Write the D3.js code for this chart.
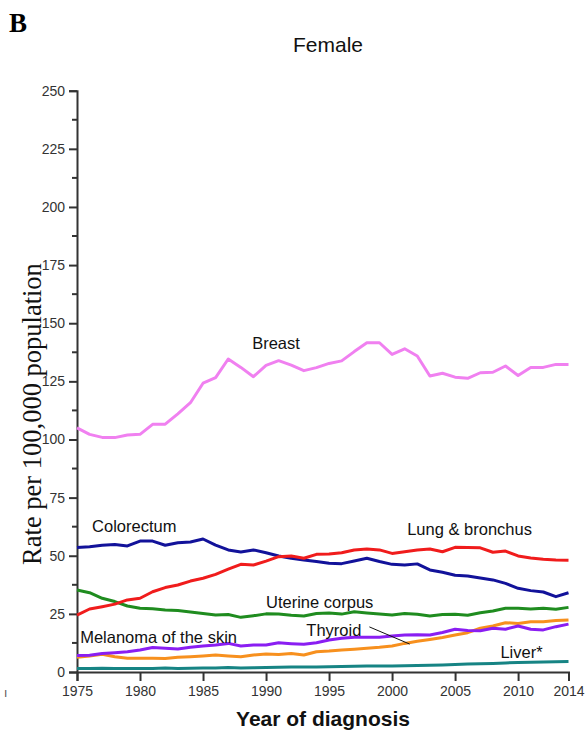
<!DOCTYPE html>
<html>
<head>
<meta charset="utf-8">
<script src="https://cdn.jsdelivr.net/npm/d3@7"></script>
<style>
  html, body { margin: 0; padding: 0; background: #fff; }
  svg { display: block; }
</style>
</head>
<body>
<script>
// Female cancer incidence rates per 100,000, 1975-2014
const years = d3.range(1975, 2015);

const breast = [105, 102.2, 100.9, 100.8, 101.9, 102.2, 106.5, 106.6, 111, 115.8,
  124.2, 126.6, 134.6, 131, 127, 131.9, 133.9, 132, 129.6, 130.9,
  132.7, 133.8, 137.8, 141.6, 141.6, 136.6, 139, 135.9, 127.3, 128.5,
  126.8, 126.3, 128.7, 128.9, 131.6, 127.5, 131, 131, 132.3, 132.3];

const colorectum = [53.5, 53.9, 54.5, 54.8, 54.2, 56.3, 56.3, 54.5, 55.6, 55.9,
  57.2, 54.6, 52.5, 51.6, 52.5, 51.3, 49.9, 48.9, 48.2, 47.5,
  46.8, 46.6, 47.7, 48.9, 47.5, 46.3, 46, 46.5, 43.9, 42.9,
  41.6, 41.3, 40.4, 39.6, 38.1, 36, 35, 34.4, 32.4, 34.1];

const lung = [24.5, 27.1, 28.1, 29.2, 31, 31.7, 34.5, 36.3, 37.4, 39.1,
  40.3, 42, 44.2, 46.3, 46, 47.7, 49.6, 49.9, 48.9, 50.6,
  50.7, 51.3, 52.5, 52.9, 52.5, 51, 51.7, 52.5, 52.9, 51.7,
  53.6, 53.5, 53.4, 51.5, 52, 49.9, 49, 48.5, 48.2, 48.1];

const uterine = [35.3, 34.1, 31.7, 30.3, 28.4, 27.4, 27.2, 26.7, 26.4, 25.8,
  25.2, 24.5, 24.7, 23.5, 24.2, 25, 24.9, 24.4, 24.1, 25.2,
  25.4, 24.9, 25.9, 25.4, 24.9, 24.5, 25.2, 24.8, 24.1, 24.7,
  24.8, 24.4, 25.5, 26.2, 27.4, 27.4, 27.1, 27.4, 27, 27.8];

const melanoma = [7.1, 7.2, 8, 8.3, 8.7, 9.5, 10.5, 10.2, 9.9, 10.6,
  11.2, 11.6, 12.3, 11.2, 11.6, 11.6, 12.6, 12.2, 11.9, 12.6,
  13.8, 14.5, 14.9, 14.9, 14.9, 15.5, 15.9, 16, 15.9, 17,
  18.4, 17.8, 17.7, 18.8, 18.4, 19.8, 18.4, 18.1, 19.5, 20.6];

const thyroid = [6.3, 6.9, 7.6, 6.6, 5.9, 5.9, 5.9, 5.8, 6.3, 6.6,
  6.9, 7.3, 6.9, 6.6, 7.3, 7.7, 7.5, 8, 7.3, 8.7,
  9, 9.5, 9.8, 10.2, 10.6, 11.2, 12.3, 13.2, 14, 14.8,
  15.9, 16.9, 18.8, 19.8, 21.2, 20.9, 21.6, 21.6, 22.1, 22.4];

const liver = [1.5, 1.5, 1.6, 1.5, 1.5, 1.5, 1.5, 1.7, 1.5, 1.6,
  1.7, 1.7, 1.9, 1.7, 1.8, 1.9, 2, 2.1, 2.1, 2.2,
  2.3, 2.4, 2.5, 2.6, 2.6, 2.6, 2.7, 2.8, 2.9, 3,
  3.2, 3.4, 3.5, 3.7, 3.9, 4.1, 4.2, 4.3, 4.4, 4.5];

const seriesNames = ["Breast", "Colorectum", "Lung & bronchus", "Uterine corpus",
  "Melanoma of the skin", "Thyroid", "Liver*"];
const seriesValues = [breast, colorectum, lung, uterine, melanoma, thyroid, liver];
const seriesColors = ["#f080f0", "#12129a", "#f01c1c", "#1f8c1f", "#8a1ef2", "#f7901e", "#168484"];

const yTicks = d3.range(0, 251, 25);
const yMinorTicks = d3.range(12.5, 250, 25);
const xTicks = [1975, 1980, 1985, 1990, 1995, 2000, 2005, 2010, 2014];

const W = 585, H = 740;
const svg = d3.select("body").append("svg").attr("width", W).attr("height", H);

const x = d3.scaleLinear().domain([1975, 2014]).range([77, 568.5]);
const y = d3.scaleLinear().domain([0, 250]).range([672, 90.7]);

const sans = "'Liberation Sans', Arial, sans-serif";
const serif = "'Liberation Serif', 'Times New Roman', serif";
const axisColor = "#333";

// Panel letter and title
svg.append("text").attr("x", 9).attr("y", 32)
  .attr("font-family", serif).attr("font-weight", "bold").attr("font-size", 27)
  .text("B");
svg.append("text").attr("x", 328).attr("y", 52).attr("text-anchor", "middle")
  .attr("font-family", sans).attr("font-size", 21).attr("fill", "#111")
  .text("Female");

// Y axis
const yAxis = d3.axisLeft(y).tickValues(yTicks).tickSize(8).tickPadding(4)
  .tickFormat(d3.format("d"));
const gy = svg.append("g").attr("transform", "translate(77,0)").call(yAxis);
gy.select(".domain").attr("stroke", axisColor).attr("stroke-width", 2);
gy.selectAll(".tick line").attr("stroke", axisColor).attr("stroke-width", 2);
gy.selectAll(".tick text").attr("font-family", sans).attr("font-size", 14).attr("fill", "#333");
gy.selectAll(".minor").data(yMinorTicks).enter().append("line")
  .attr("class", "minor")
  .attr("x1", -5).attr("x2", 0)
  .attr("y1", d => y(d)).attr("y2", d => y(d))
  .attr("stroke", axisColor).attr("stroke-width", 2);

// X axis
const xAxis = d3.axisBottom(x).tickValues(xTicks).tickSize(9).tickPadding(5)
  .tickFormat(d3.format("d"));
const gx = svg.append("g").attr("transform", "translate(0,672)").call(xAxis);
gx.select(".domain").attr("stroke", axisColor).attr("stroke-width", 2);
gx.selectAll(".tick line").attr("stroke", axisColor).attr("stroke-width", 2);
gx.selectAll(".tick text").attr("font-family", sans).attr("font-size", 14).attr("fill", "#333");

// Axis titles
svg.append("text")
  .attr("transform", "translate(41,414) rotate(-90)")
  .attr("text-anchor", "middle")
  .attr("font-family", serif).attr("font-size", 26.5).attr("fill", "#111")
  .text("Rate per 100,000 population");
svg.append("text").attr("x", 323).attr("y", 726).attr("text-anchor", "middle")
  .attr("font-family", sans).attr("font-weight", "bold").attr("font-size", 21).attr("fill", "#111")
  .text("Year of diagnosis");

// Small stray mark at lower left
svg.append("text").attr("x", 4).attr("y", 697)
  .attr("font-family", sans).attr("font-size", 12).attr("fill", "#555")
  .text("ı");

// Series lines (drawn bottom to top)
const line = d3.line().x((d, i) => x(years[i])).y(d => y(d));
const drawOrder = [6, 5, 4, 3, 1, 2, 0];
svg.append("g").selectAll("path").data(drawOrder).enter().append("path")
  .attr("d", i => line(seriesValues[i]))
  .attr("fill", "none")
  .attr("stroke", i => seriesColors[i])
  .attr("stroke-width", 3)
  .attr("stroke-linejoin", "round");

// Series labels
const labelPos = [
  { i: 0, yr: 1988.9, v: 139 },
  { i: 1, yr: 1976.2, v: 60.2 },
  { i: 2, yr: 2001.2, v: 58.9 },
  { i: 3, yr: 1990.0, v: 27.5 },
  { i: 4, yr: 1975.25, v: 12.5 },
  { i: 5, yr: 1993.2, v: 15.3 },
  { i: 6, yr: 2008.6, v: 6.2 }
];
svg.append("g").selectAll("text").data(labelPos).enter().append("text")
  .attr("x", d => x(d.yr)).attr("y", d => y(d.v))
  .attr("font-family", sans).attr("font-size", 16.5).attr("fill", "#111")
  .text(d => seriesNames[d.i]);

// Leader line from the Thyroid label to its curve
svg.append("line")
  .attr("x1", x(1998.2)).attr("y1", y(19.4))
  .attr("x2", x(2001.4)).attr("y2", y(12))
  .attr("stroke", "#111").attr("stroke-width", 1);
</script>
</body>
</html>
